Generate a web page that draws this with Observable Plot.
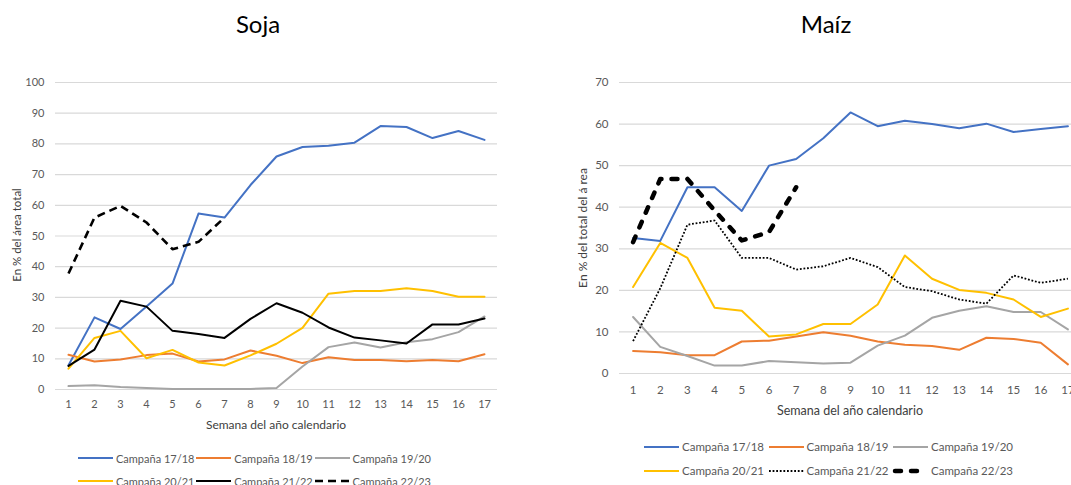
<!DOCTYPE html>
<html><head><meta charset="utf-8">
<script src="https://cdn.jsdelivr.net/npm/d3@7"></script>
<script src="https://cdn.jsdelivr.net/npm/@observablehq/plot@0.6"></script>
<style>
body{margin:0;background:#fff;}
#root{position:relative;width:1071px;height:485px;overflow:hidden;font-family:Lato,"Liberation Sans",sans-serif;color:#595959;background:#fff;}
.abs{position:absolute;white-space:nowrap;line-height:1;}
.ctr{transform:translate(-50%,-50%);}
.rot{transform:translate(-50%,-50%) rotate(-90deg);}
.leg{position:absolute;white-space:nowrap;display:flex;align-items:center;line-height:1;}
.leg svg{margin-right:3px;overflow:visible;}
</style></head><body><div id="root"></div>
<script>
// ---- data ----
const weeks = [1,2,3,4,5,6,7,8,9,10,11,12,13,14,15,16,17];
const campaigns = ["Campaña 17/18","Campaña 18/19","Campaña 19/20","Campaña 20/21","Campaña 21/22","Campaña 22/23"];

const sojaTicks = [0,10,20,30,40,50,60,70,80,90,100];
const soja1718 = [7.9,23.5,19.7,27.0,34.5,57.3,56.0,66.6,75.9,79.0,79.4,80.4,85.8,85.5,81.9,84.2,81.3];
const soja1819 = [11.3,9.1,9.8,11.2,11.7,9.1,9.8,12.7,11.0,8.6,10.5,9.6,9.6,9.2,9.6,9.2,11.5];
const soja1920 = [1.1,1.4,0.8,0.5,0.2,0.2,0.2,0.2,0.5,7.5,13.8,15.3,13.7,15.4,16.4,18.7,23.8];
const soja2021 = [6.8,16.8,19.1,10.2,12.9,8.8,7.8,11.1,14.9,20.1,31.2,32.1,32.1,33.0,32.1,30.2,30.2];
const soja2122 = [7.7,13.0,28.9,27.0,19.1,18.1,16.8,23.0,28.1,25.0,20.2,16.9,16.0,15.0,21.2,21.2,23.1];
const soja2223 = [37.8,56.0,59.8,54.4,45.7,48.1,56.0];

const maizTicks = [0,10,20,30,40,50,60,70];
const maiz1718 = [32.6,31.9,44.8,44.8,39.1,50.0,51.6,56.6,62.8,59.5,60.8,60.0,59.0,60.1,58.1,58.8,59.5];
const maiz1819 = [5.4,5.1,4.4,4.4,7.7,7.9,8.9,9.9,9.1,7.7,6.9,6.6,5.7,8.6,8.3,7.4,2.2];
const maiz1920 = [13.6,6.4,4.2,1.9,1.9,3.0,2.7,2.4,2.6,6.7,9.1,13.4,15.1,16.2,14.8,14.8,10.6];
const maiz2021 = [20.8,31.4,27.8,15.8,15.1,8.9,9.4,11.9,11.9,16.6,28.4,22.8,20.1,19.4,17.8,13.6,15.6];
const maiz2122 = [7.8,20.5,35.8,36.8,27.8,27.8,25.0,25.8,27.8,25.6,20.8,19.8,17.8,16.8,23.6,21.8,22.8];
const maiz2223 = [31.6,46.8,46.8,39.2,32.0,34.0,44.8];

// ---- styles ----
const colors = ["#4472C4","#ED7D31","#A5A5A5","#FFC000","#000000","#000000"];
const sojaStyles = [
  {w:2},{w:2},{w:2},{w:2},{w:2},{w:2.6,dash:"8,5",cap:"butt"}
];
const maizStyles = [
  {w:2},{w:2},{w:2},{w:2},{w:1.8,dash:"1.8,1.8",cap:"butt"},{w:4.5,dash:"6,10",cap:"round"}
];

function rows(seriesList){
  const out=[];
  seriesList.forEach((vals,i)=>vals.forEach((v,j)=>out.push({week:weeks[j],value:v,series:campaigns[i]})));
  return out;
}

function chart(cfg){
  const data = rows(cfg.series);
  const lines = campaigns.map((c,i)=>Plot.line(data.filter(d=>d.series===c),{
    x:"week",y:"value",stroke:colors[i],strokeWidth:cfg.styles[i].w,
    strokeDasharray:cfg.styles[i].dash||null,strokeLinecap:cfg.styles[i].cap||"round",strokeLinejoin:"round"
  }));
  return Plot.plot({
    width:cfg.width,height:cfg.height,
    marginTop:cfg.mt,marginBottom:cfg.mb,marginLeft:cfg.ml,marginRight:cfg.mr,
    x:{domain:[0.5,17.5],axis:null},
    y:{domain:[0,cfg.ymax],axis:null},
    style:{fontFamily:"Lato, 'Liberation Sans', sans-serif",fontSize:cfg.fs,color:"#595959",background:"transparent",overflow:"visible"},
    marks:[
      Plot.ruleY(cfg.ticks,{stroke:"#D9D9D9",strokeWidth:1.2}),
      Plot.axisY({ticks:cfg.ticks,tickSize:0,tickPadding:11,label:null,tickFormat:d=>String(d)}),
      Plot.axisX({ticks:weeks,tickSize:0,tickPadding:cfg.xpad,label:null,tickFormat:d=>String(d)}),
      ...lines
    ]
  });
}

const root = document.getElementById("root");
function text(str, x, y, cls, size, color){
  const d=document.createElement("div");
  d.className="abs "+cls; d.textContent=str;
  d.style.left=x+"px"; d.style.top=y+"px"; d.style.fontSize=size+"px"; d.style.color=color;
  root.appendChild(d);
}
function place(svg, x, y){
  svg.style.position="absolute"; svg.style.left=x+"px"; svg.style.top=y+"px";
  root.appendChild(svg);
}

place(chart({series:[soja1718,soja1819,soja1920,soja2021,soja2122,soja2223],styles:sojaStyles,
  ticks:sojaTicks,ymax:100,width:540,height:440,mt:82,mb:51,ml:55,mr:43,xpad:11,fs:"11px"}),0,0);
place(chart({series:[maiz1718,maiz1819,maiz1920,maiz2021,maiz2122,maiz2223],styles:maizStyles,
  ticks:maizTicks,ymax:70,width:540,height:440,mt:82,mb:67,ml:59,mr:19,xpad:12.5,fs:"11.5px"}),560,0);

text("Soja",258,24,"ctr",24,"#000");
text("Maíz",826,24,"ctr",24,"#000");
text("En % del área total",17,235,"rot",11.5,"#404040");
text("En  % del total del á rea",583,228,"rot",12,"#404040");
text("Semana del año calendario",276,425,"ctr",12,"#404040");
text("Semana del año calendario",850,411,"ctr",12.5,"#404040");

function legend(styles, x0, dx, y1, y2, fs){
  campaigns.forEach((c,i)=>{
    const col=i%3,row=Math.floor(i/3);
    const d=document.createElement("div");
    d.className="leg";
    d.style.left=(x0+col*dx)+"px"; d.style.top=((row?y2:y1)-7)+"px"; d.style.height="14px";
    d.style.fontSize=fs+"px"; d.style.color="#595959";
    const s=styles[i];
    d.innerHTML=`<svg width="35" height="14"><line x1="${s.cap==='round'?2:0}" x2="${s.cap==='round'?33:35}" y1="7" y2="7" stroke="${colors[i]}" stroke-width="${s.w}" ${s.dash?`stroke-dasharray="${s.dash}"`:""} stroke-linecap="${s.cap||'butt'}"/></svg><span>${c}</span>`;
    root.appendChild(d);
  });
}
legend(sojaStyles,78,118.3,458,481,11);
legend(maizStyles,644,124.5,447,471,11.5);
</script></body></html>
